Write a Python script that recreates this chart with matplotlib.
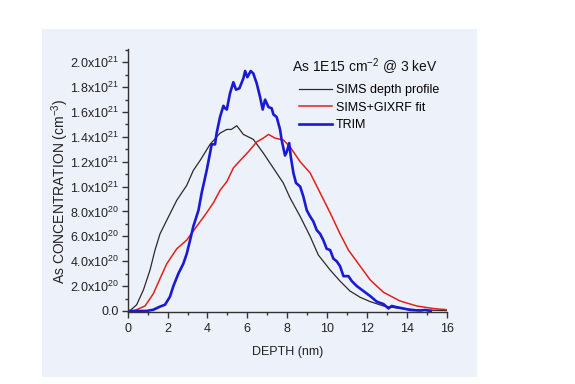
import matplotlib
matplotlib.use("Agg")
import matplotlib.pyplot as plt
from matplotlib.patches import Rectangle
from matplotlib.ticker import MultipleLocator, FuncFormatter

plt.rcParams['font.family'] = ['Liberation Sans', 'DejaVu Sans']
plt.rcParams['mathtext.fontset'] = 'custom'
plt.rcParams['mathtext.rm'] = 'Liberation Sans'
plt.rcParams['mathtext.it'] = 'Liberation Sans:italic'

# concentrations in units of 1e21 cm^-3, depth in nm
sims_depth = [0.1, 0.45, 0.79, 1.12, 1.37, 1.62, 1.96, 2.46, 2.96, 3.29, 3.63, 4.13, 4.63,
              4.97, 5.2, 5.47, 5.8, 6.3, 6.8, 7.3, 7.8, 8.14, 8.65, 9.15, 9.56, 10.15,
              10.65, 11.15, 11.66, 12.16, 12.83, 13.66, 14.67, 16.0]
sims_conc = [0.0, 0.05, 0.17, 0.33, 0.49, 0.62, 0.73, 0.89, 1.01, 1.13, 1.21, 1.34, 1.43,
             1.46, 1.46, 1.49, 1.42, 1.38, 1.27, 1.15, 1.03, 0.91, 0.76, 0.60, 0.45, 0.33,
             0.24, 0.16, 0.11, 0.075, 0.04, 0.02, 0.008, 0.003]

fit_depth = [0.3, 0.87, 1.29, 1.62, 1.96, 2.46, 2.96, 3.46, 3.96, 4.3, 4.63, 4.97, 5.3,
             5.64, 6.05, 6.47, 6.8, 7.06, 7.39, 7.81, 8.14, 8.65, 9.15, 9.65, 10.15, 10.65,
             11.07, 11.66, 12.16, 12.83, 13.66, 14.5, 15.3, 16.0]
fit_conc = [0.0, 0.04, 0.14, 0.26, 0.38, 0.50, 0.57, 0.68, 0.79, 0.87, 0.97, 1.04, 1.15,
            1.21, 1.28, 1.36, 1.39, 1.42, 1.39, 1.375, 1.32, 1.20, 1.11, 0.95, 0.79, 0.62,
            0.49, 0.36, 0.25, 0.15, 0.08, 0.04, 0.02, 0.01]

trim_depth = [0.1, 0.95, 1.29, 1.62, 1.87, 2.12, 2.29, 2.54, 2.79, 2.96, 3.13, 3.29, 3.55,
              3.71, 3.96, 4.13, 4.21, 4.38, 4.46, 4.63, 4.8, 4.88, 4.97, 5.13, 5.3, 5.43,
              5.6, 5.8, 5.89, 6.0, 6.17, 6.3, 6.47, 6.64, 6.77, 6.89, 7.06, 7.22, 7.31,
              7.47, 7.64, 7.72, 7.89, 7.98, 8.1, 8.18, 8.31, 8.44, 8.65, 8.81, 8.98, 9.15,
              9.31, 9.48, 9.65, 9.81, 9.98, 10.15, 10.32, 10.48, 10.65, 10.82, 11.07, 11.24,
              11.49, 11.74, 11.99, 12.16, 12.49, 12.83, 13.08, 13.24, 13.5, 13.83, 14.16,
              14.67, 14.9, 15.2]
trim_conc = [0.0, 0.0, 0.01, 0.035, 0.05, 0.115, 0.2, 0.30, 0.38, 0.46, 0.57, 0.68, 0.81,
             0.95, 1.13, 1.27, 1.34, 1.34, 1.43, 1.56, 1.65, 1.63, 1.62, 1.75, 1.84, 1.78,
             1.79, 1.87, 1.93, 1.88, 1.93, 1.91, 1.83, 1.72, 1.62, 1.70, 1.64, 1.63, 1.58,
             1.56, 1.46, 1.375, 1.25, 1.28, 1.35, 1.24, 1.11, 1.03, 1.0, 0.92, 0.81, 0.76,
             0.72, 0.65, 0.62, 0.57, 0.50, 0.49, 0.42, 0.40, 0.36, 0.28, 0.28, 0.24,
             0.20, 0.17, 0.14, 0.12, 0.075, 0.055, 0.02, 0.04, 0.03, 0.02, 0.008,
             0.003, 0.008, 0.0]

labels = ['SIMS depth profile', 'SIMS+GIXRF fit', 'TRIM']
title = 'As 1E15 cm$^{-2}$ @ 3 keV'

bg = '#EDF1F9'
fig = plt.figure(figsize=(5.75, 3.84), dpi=100)
fig.patches.append(Rectangle((42 / 575, 1 - 376.5 / 384), 435 / 575, 348 / 384,
                             transform=fig.transFigure, facecolor=bg, edgecolor='none',
                             zorder=-5))

ax = fig.add_axes([0.2221, 0.187, 0.5548, 0.6864])
ax.set_facecolor(bg)

ax.plot(sims_depth, sims_conc, color='#2a2a2a', lw=0.9, label=labels[0])
ax.plot(fit_depth, fit_conc, color='#e3211c', lw=1.1, label=labels[1])
ax.plot(trim_depth, trim_conc, color='#1a1ad6', lw=1.9, label=labels[2])

ax.set_xlim(0, 16)
ax.set_ylim(-0.01, 2.11)

for s in ['top', 'right']:
    ax.spines[s].set_visible(False)
for s in ['left', 'bottom']:
    ax.spines[s].set_color('#333333')
    ax.spines[s].set_linewidth(1.0)

ax.xaxis.set_major_locator(MultipleLocator(2))
ax.xaxis.set_minor_locator(MultipleLocator(1))
ax.yaxis.set_major_locator(MultipleLocator(0.2))
ax.yaxis.set_minor_locator(MultipleLocator(0.1))


def ylab(v, pos):
    if abs(v) < 1e-9:
        return '0.0'
    if v < 0.99:
        return f'{v * 10:.1f}x10$^{{20}}$'
    return f'{v:.1f}x10$^{{21}}$'


ax.yaxis.set_major_formatter(FuncFormatter(ylab))
ax.tick_params(which='major', length=4, width=1, color='#333333', labelsize=9,
               labelcolor='#222222', pad=2)
ax.tick_params(axis='x', which='major', pad=4)
ax.tick_params(which='minor', length=2.5, width=1, color='#333333')

fig.text(287.5 / 575, 1 - 352 / 384, 'DEPTH (nm)', ha='center', va='center',
         fontsize=9, color='#222222')
fig.text(60 / 575, 1 - 191 / 384, 'As CONCENTRATION (cm$^{-3}$)', ha='center',
         va='center', rotation=90, fontsize=10, color='#222222')
fig.text(365 / 575, 1 - 72 / 384, title, ha='center', va='baseline', fontsize=10,
         color='#111111')

ax.legend(loc='upper left', bbox_to_anchor=(299 / 575, 1 - 84 / 384),
          bbox_transform=fig.transFigure, frameon=False, fontsize=9,
          handlelength=2.6, handletextpad=0.35, labelspacing=0.45, borderpad=0,
          borderaxespad=0)

fig.savefig('out.png', dpi=100)
